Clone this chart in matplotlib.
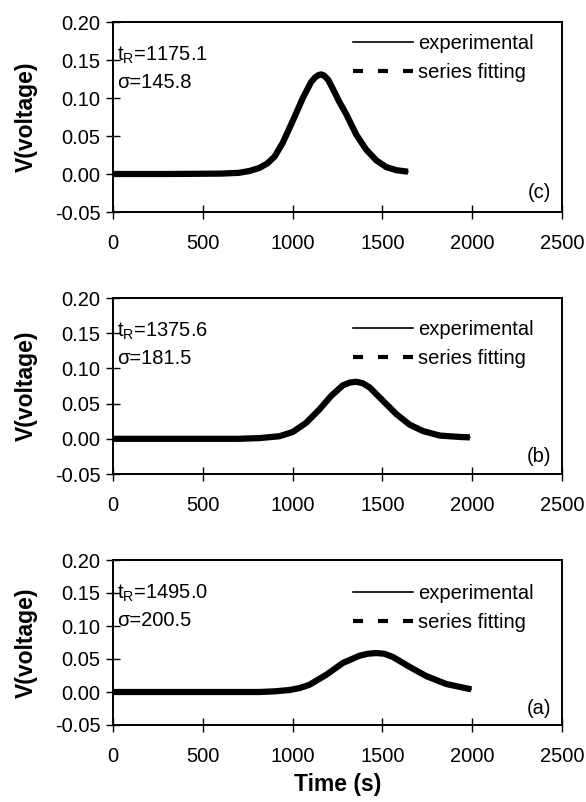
#!/usr/bin/env python
# -*- coding: utf-8 -*-

import matplotlib
matplotlib.use('Agg')
import pylab as plt
from matplotlib.lines import Line2D

# values, panel (c) on top, (b) middle, (a) bottom
t_c = [0, 300, 600, 700, 760, 815, 860, 900, 945, 1001, 1057, 1103, 1125,
       1145, 1160, 1175, 1198, 1220, 1260, 1298, 1354, 1410, 1466, 1522, 1578,
       1643]
v_c = [0.0, 0.0, 0.0005, 0.0015, 0.004, 0.008, 0.014, 0.023, 0.041, 0.070,
       0.100, 0.121, 0.127, 0.1303, 0.131, 0.1296, 0.124, 0.114, 0.095, 0.079,
       0.052, 0.032, 0.018, 0.009, 0.005, 0.003]

t_b = [0, 400, 700, 815, 926, 1001, 1075, 1150, 1215, 1280, 1320, 1354, 1390,
       1429, 1503, 1578, 1652, 1726, 1819, 1931, 1987]
v_b = [0.0, 0.0, 0.0, 0.001, 0.0036, 0.0097, 0.0226, 0.0419, 0.061, 0.076,
       0.080, 0.081, 0.079, 0.073, 0.054, 0.035, 0.020, 0.011, 0.0046, 0.0026,
       0.002]

t_a = [0, 500, 815, 900, 982, 1040, 1094, 1187, 1280, 1373, 1420, 1466, 1510,
       1559, 1652, 1745, 1857, 1995]
v_a = [0.0, 0.0, 0.0, 0.001, 0.003, 0.006, 0.011, 0.026, 0.044, 0.055, 0.058,
       0.059, 0.058, 0.053, 0.038, 0.024, 0.012, 0.004]

t_R = ['1175.1', '1375.6', '1495.0']
sigma = ['145.8', '181.5', '200.5']
panel_tags = ['(c)', '(b)', '(a)']

x_ticks = [0, 500, 1000, 1500, 2000, 2500]
y_ticks = [-0.05, 0.00, 0.05, 0.10, 0.15, 0.20]
series_names = ['experimental', 'series fitting']


if __name__ == '__main__':

  plt.rcParams['font.family'] = ['Liberation Sans', 'DejaVu Sans']

  W, H = 586, 802
  fig = plt.figure(figsize=(W / 100, H / 100), dpi=100)

  # axes boxes in pixels: left, right, top, bottom
  boxes = [(113, 562, 22, 212),
           (113, 562, 298, 474),
           (113, 562, 560, 725)]
  # first legend row, pixels below the top of each box
  leg_off = [21, 31, 33]
  curves = [(t_c, v_c), (t_b, v_b), (t_a, v_a)]

  for i, (l, r, t, b) in enumerate(boxes):
    ax = fig.add_axes([l / W, 1 - b / H, (r - l) / W, (b - t) / H])
    tt, vv = curves[i]

    ax.plot(tt, vv, color='k', lw=4.5, solid_capstyle='butt',
            solid_joinstyle='round', zorder=2)
    ax.plot(tt, vv, color='k', lw=1.0, zorder=3)

    ax.set_xlim(0, 2500)
    ax.set_ylim(-0.05, 0.20)
    ax.set_xticks(x_ticks)
    ax.set_yticks(y_ticks)
    ax.set_yticklabels(['{:.2f}'.format(y) for y in y_ticks])
    ax.tick_params(direction='inout', length=10, width=1.0, labelsize=14.5,
                   colors='k')
    ax.tick_params(axis='x', pad=11)
    ax.tick_params(axis='y', pad=4)
    for s in ax.spines.values():
      s.set_linewidth(1.4)

    ax.set_ylabel('V(voltage)', fontsize=16.5, fontweight='bold',
                  labelpad=12)

    ax.annotate('t$_\\mathregular{R}$=' + t_R[i], xy=(0, 1),
                xycoords='axes fraction', xytext=(4, -33),
                textcoords='offset pixels', fontsize=14.5, va='center',
                ha='left')
    ax.annotate('σ=' + sigma[i], xy=(0, 1), xycoords='axes fraction',
                xytext=(4, -60), textcoords='offset pixels', fontsize=14.5,
                va='center', ha='left')
    ax.text(0.975, 0.1, panel_tags[i], transform=ax.transAxes, fontsize=14.5,
            ha='right', va='center')

    handles = [Line2D([], [], color='k', lw=1.2),
               Line2D([], [], color='k', lw=3.0, dashes=(2.4, 3.6),
                      dash_capstyle='butt')]
    ax.legend(handles, series_names, loc='upper left',
              bbox_to_anchor=((353 - l) / (r - l),
                              1 - (leg_off[i] - 9) / (b - t)),
              frameon=False, fontsize=14.5, handlelength=3.0,
              handletextpad=0.25, labelspacing=0.5, borderaxespad=0,
              borderpad=0)

    if i == 2:
      ax.set_xlabel('Time (s)', fontsize=16.5, fontweight='bold', labelpad=5)

  fig.savefig('out.png', dpi=100)
